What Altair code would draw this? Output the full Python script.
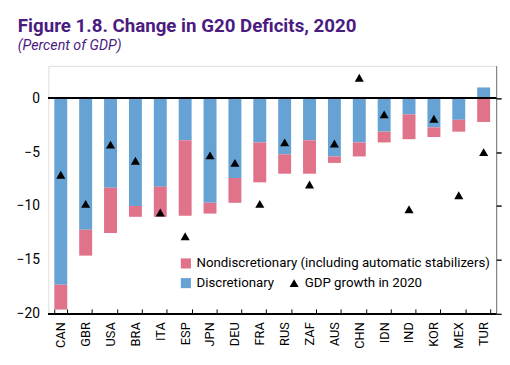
import altair as alt
import pandas as pd

countries = ["CAN", "GBR", "USA", "BRA", "ITA", "ESP", "JPN", "DEU", "FRA",
             "RUS", "ZAF", "AUS", "CHN", "IDN", "IND", "KOR", "MEX", "TUR"]
discretionary = [-17.3, -12.2, -8.3, -10.0, -8.2, -3.9, -9.7, -7.4, -4.1,
                 -5.2, -3.9, -5.4, -4.1, -3.1, -1.5, -2.7, -2.0, 1.0]
nondiscretionary = [-2.3, -2.4, -4.2, -1.0, -2.8, -7.0, -1.0, -2.3, -3.7,
                    -1.8, -3.1, -0.6, -1.3, -1.0, -2.3, -0.9, -1.1, -2.2]
gdp_growth = [-7.1, -9.8, -4.3, -5.8, -10.6, -12.8, -5.3, -6.0, -9.8,
              -4.1, -8.0, -4.2, 1.9, -1.5, -10.3, -1.9, -9.0, -5.0]

NON = "Nondiscretionary (including automatic stabilizers)"
DIS = "Discretionary"
GDP = "GDP growth in 2020"

rows = []
for c, d, n in zip(countries, discretionary, nondiscretionary):
    rows.append({"country": c, "component": DIS, "value": d, "ord": 0})
    rows.append({"country": c, "component": NON, "value": n, "ord": 1})
bars_df = pd.DataFrame(rows)
gdp_df = pd.DataFrame({"country": countries, "gdp": gdp_growth, "label": GDP})

FONT = "Roboto, sans-serif"

xscale = alt.Scale(domain=countries, paddingInner=0.48, paddingOuter=0.24)
yscale = alt.Scale(domain=[-20, 3], nice=False, zero=False)

x_axis = alt.Axis(title=None, labelAngle=-90, labelAlign="right", labelBaseline="middle",
                  labelFont=FONT, labelFontSize=13, labelColor="black", labelPadding=8,
                  domain=False, ticks=True, tickBand="extent", tickSize=5, tickColor="black",
                  tickWidth=1, offset=-5, grid=False)

bars = alt.Chart(bars_df).mark_bar().encode(
    x=alt.X("country:N", scale=xscale, sort=countries, axis=x_axis),
    y=alt.Y("value:Q", scale=yscale, stack="zero",
            axis=alt.Axis(title=None, values=[0, -5, -10, -15, -20], ticks=False, domain=False,
                          grid=False, labelFont=FONT, labelFontSize=14, labelColor="black",
                          labelPadding=9, orient="left")),
    color=alt.Color("component:N",
                    scale=alt.Scale(domain=[NON, DIS], range=["#E0728A", "#66A3D4"]),
                    legend=alt.Legend(title=None, orient="none", legendX=133, legendY=194,
                                      symbolType="square", symbolSize=105, symbolStrokeWidth=0,
                                      labelFont=FONT, labelFontSize=13.5, labelColor="black",
                                      rowPadding=5, labelOffset=4, labelLimit=400)),
    order=alt.Order("ord:Q"),
)

right_axis = alt.Chart(gdp_df).mark_point(opacity=0).encode(
    y=alt.Y("gdp:Q", scale=yscale,
            axis=alt.Axis(title=None, orient="right", values=[0, -5, -10, -15, -20],
                          labels=False, domain=False, grid=False, ticks=True,
                          tickSize=5, tickColor="black")),
)

zero_line = alt.Chart(gdp_df).mark_rule(color="black", strokeWidth=1).encode(
    y=alt.datum(0)
)
base_line = alt.Chart(gdp_df).mark_rule(color="black", strokeWidth=1).encode(
    y=alt.datum(-20)
)

points = alt.Chart(gdp_df).mark_point(filled=True, color="black", size=85, opacity=1).encode(
    x=alt.X("country:N", scale=xscale, sort=countries),
    y=alt.Y("gdp:Q", scale=yscale),
    shape=alt.Shape("label:N", scale=alt.Scale(domain=[GDP], range=["triangle-up"]),
                    legend=alt.Legend(title=None, orient="none", legendX=243, legendY=214,
                                      symbolFillColor="black", symbolStrokeColor="black",
                                      symbolSize=85, labelFont=FONT, labelFontSize=13.5,
                                      labelColor="black", labelOffset=4)),
)

chart = alt.layer(bars, zero_line, base_line, points, right_axis).resolve_axis(
    y="independent"
).resolve_scale(y="shared").properties(
    width=455,
    height=252,
    autosize=alt.AutoSizeParams(type="none"),
    padding={"left": 41, "top": 56, "right": 6, "bottom": 40},
    title=alt.TitleParams(
        text="Figure 1.8. Change in G20 Deficits, 2020",
        subtitle="(Percent of GDP)",
        anchor="start", frame="group", dx=-31, offset=14,
        font=FONT, fontSize=19, fontWeight="bold", color="#4B1B7F",
        subtitleFont=FONT, subtitleFontSize=14.5, subtitleFontStyle="italic",
        subtitleColor="#4B1B7F", subtitlePadding=3,
    ),
).configure_view(stroke=None).configure(background="white")

chart.save("out.html", embed_options={"renderer": "svg", "actions": False})
